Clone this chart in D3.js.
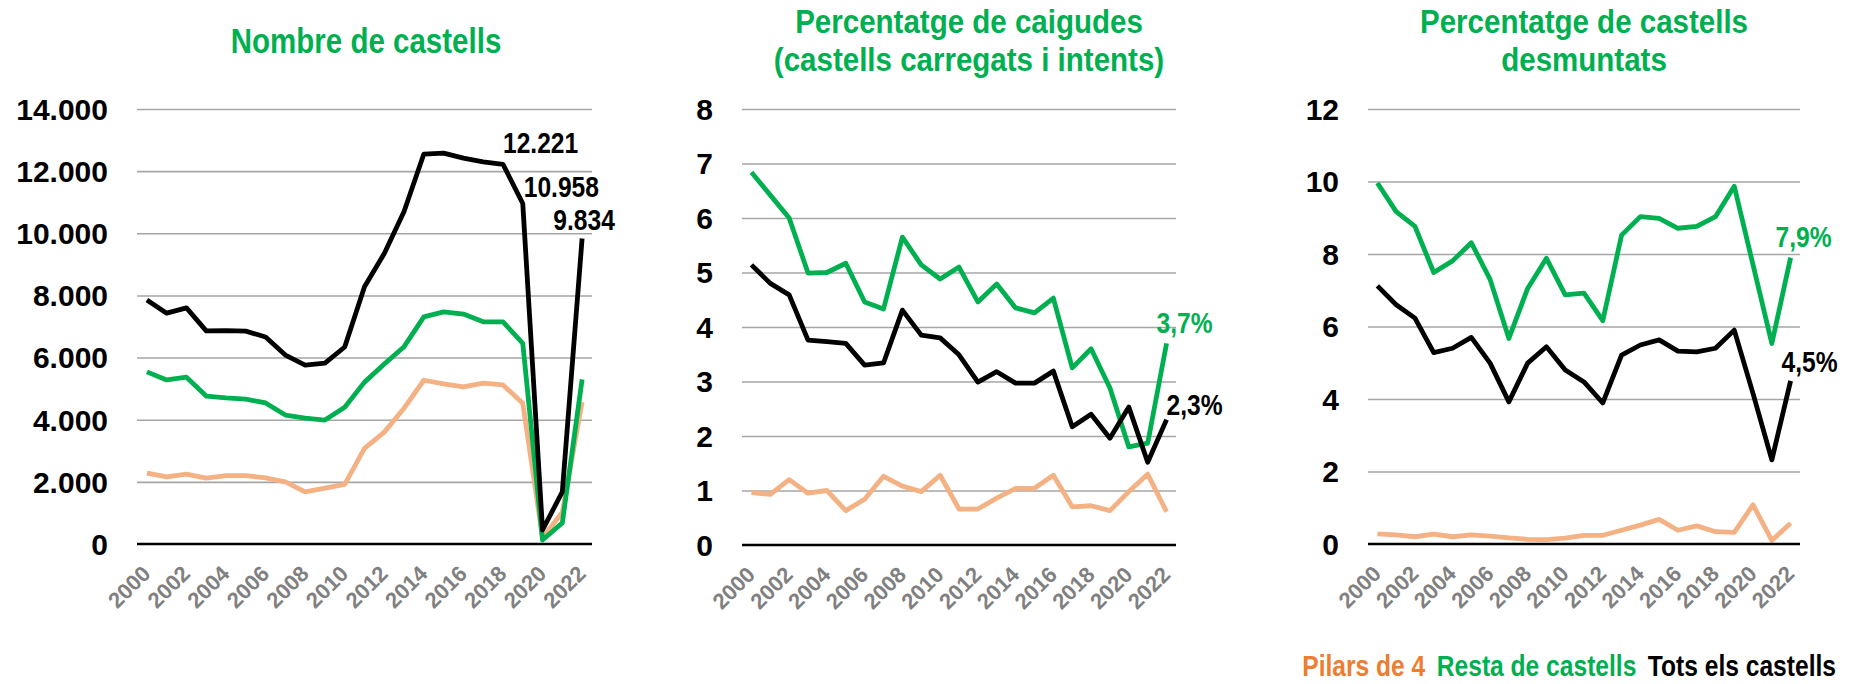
<!DOCTYPE html>
<html>
<head>
<meta charset="utf-8">
<script src="https://cdn.jsdelivr.net/npm/d3@7"></script>
<style>
  body { margin: 0; background: #fff; }
  svg text { font-family: "Liberation Sans", Arial, sans-serif; }
</style>
</head>
<body>
<svg id="chart" width="1866" height="684"></svg>
<script>
"use strict";

// years on the x axis
const years = d3.range(2000, 2023);

// Nombre de castells
const nombrePilars = [2280, 2160, 2250, 2120, 2200, 2200, 2130, 2000, 1680, 1800, 1920, 3080, 3600, 4370, 5270, 5150, 5060, 5180, 5120, 4530, 200, 1020, 4570];
const nombreResta  = [5540, 5280, 5370, 4760, 4700, 4660, 4540, 4150, 4050, 3990, 4400, 5210, 5790, 6350, 7310, 7470, 7400, 7150, 7150, 6460, 130, 680, 5300];
const nombreTots   = [7850, 7430, 7600, 6860, 6870, 6850, 6660, 6080, 5760, 5820, 6340, 8280, 9350, 10700, 12550, 12580, 12420, 12300, 12221, 10958, 450, 1680, 9834];

// Percentatge de caigudes
const caigudesPilars = [0.96, 0.93, 1.20, 0.95, 1.00, 0.63, 0.84, 1.26, 1.08, 0.98, 1.28, 0.66, 0.66, 0.86, 1.04, 1.04, 1.28, 0.70, 0.72, 0.63, 0.98, 1.30, 0.61];
const caigudesResta  = [6.84, 6.42, 6.00, 4.99, 5.00, 5.17, 4.46, 4.33, 5.65, 5.14, 4.88, 5.10, 4.46, 4.79, 4.35, 4.26, 4.53, 3.25, 3.60, 2.88, 1.80, 1.87, 3.70];
const caigudesTots   = [5.14, 4.80, 4.59, 3.76, 3.73, 3.70, 3.30, 3.34, 4.31, 3.85, 3.80, 3.49, 2.99, 3.18, 2.97, 2.97, 3.19, 2.17, 2.40, 1.96, 2.53, 1.52, 2.30];

// Percentatge de castells desmuntats
const desmuntatsPilars = [0.28, 0.25, 0.20, 0.27, 0.20, 0.25, 0.22, 0.17, 0.13, 0.12, 0.16, 0.24, 0.24, 0.38, 0.52, 0.68, 0.38, 0.50, 0.34, 0.32, 1.08, 0.10, 0.57];
const desmuntatsResta  = [9.96, 9.17, 8.76, 7.49, 7.81, 8.31, 7.30, 5.67, 7.05, 7.88, 6.87, 6.92, 6.16, 8.52, 9.03, 8.98, 8.71, 8.76, 9.03, 9.87, 7.70, 5.53, 7.90];
const desmuntatsTots   = [7.12, 6.60, 6.23, 5.28, 5.40, 5.70, 4.99, 3.92, 4.99, 5.44, 4.80, 4.47, 3.89, 5.21, 5.49, 5.63, 5.32, 5.30, 5.40, 5.90, 4.15, 2.32, 4.50];

const seriesNames = ["Pilars de 4", "Resta de castells", "Tots els castells"];
const lineColors  = ["#F4B183", "#00B050", "#000000"];
const legendColors = ["#ED7D31", "#00B050", "#000000"];

const titles = [
  ["Nombre de castells"],
  ["Percentatge de caigudes", "(castells carregats i intents)"],
  ["Percentatge de castells", "desmuntats"]
];
const yMax  = [14000, 8, 12];
const yStep = [2000, 1, 2];

// end-of-line value labels: [panel, series index, year, text]
const labels = [
  [0, 2, 2018, "12.221"],
  [0, 2, 2019, "10.958"],
  [0, 2, 2022, "9.834"],
  [1, 1, 2022, "3,7%"],
  [1, 2, 2022, "2,3%"],
  [2, 1, 2022, "7,9%"],
  [2, 2, 2022, "4,5%"]
];

const panelData = [
  [nombrePilars, nombreResta, nombreTots],
  [caigudesPilars, caigudesResta, caigudesTots],
  [desmuntatsPilars, desmuntatsResta, desmuntatsTots]
];

// layout of each panel (pixels)
const layout = [
  {left: 137,  right: 592,  top: 109, bottom: 544, titleX: 366,  titleY: [53],     titleSize: 36},
  {left: 742,  right: 1176, top: 109, bottom: 545, titleX: 969,  titleY: [33, 71], titleSize: 33},
  {left: 1368, right: 1800, top: 109, bottom: 544, titleX: 1584, titleY: [33, 71], titleSize: 33}
];
// label offsets (dx, dy, anchor) for the value labels
const labelOffsets = [[0, -11, "start"], [1, -7, "start"], [2, -8, "middle"], [-10, -10, "start"], [0, -5, "start"], [-15, -11, "start"], [-9, -9, "start"]];

const NARROW = 0.82;  // no narrow font installed: squeeze the glyphs horizontally

const svg = d3.select("#chart");
const fmtThousands = d3.formatLocale({decimal: ",", thousands: ".", grouping: [3], currency: ["", "€"]}).format(",");

function narrowText(parent, x, y, factor) {
  return parent.append("text")
    .attr("transform", "translate(" + x + "," + y + ") scale(" + factor + ",1)");
}

layout.forEach((L, p) => {
  const g = svg.append("g");

  let xScale = d3.scalePoint()
                 .domain(years)
                 .range([L.left, L.right])
                 .padding(0.5);

  let yScale = d3.scaleLinear()
                 .domain([0, yMax[p]])
                 .range([L.bottom, L.top]);

  const ticks = d3.range(0, yMax[p] + yStep[p] / 2, yStep[p]);

  // gridlines
  g.append("g")
    .attr("transform", "translate(" + L.left + ",0)")
    .call(d3.axisLeft(yScale).tickValues(ticks.slice(1)).tickSize(-(L.right - L.left)).tickFormat(""))
    .call(a => a.select(".domain").remove())
    .call(a => a.selectAll("line").attr("stroke", "#a6a6a6").attr("stroke-width", 1.6));

  // y labels
  g.selectAll(".ylab")
    .data(ticks)
    .enter().append("text")
      .attr("x", L.left - 29)
      .attr("y", d => yScale(d))
      .attr("dy", "0.36em")
      .attr("text-anchor", "end")
      .attr("font-size", 30)
      .attr("font-weight", "bold")
      .attr("fill", "#000")
      .text(d => p === 0 ? fmtThousands(d) : d);

  // x labels
  g.selectAll(".xlab")
    .data(years.filter(y => y % 2 === 0))
    .enter().append("text")
      .attr("transform", d => "translate(" + (xScale(d) + 5) + "," + (L.bottom + 31) + ") rotate(-45)")
      .attr("text-anchor", "end")
      .attr("font-size", 22)
      .attr("font-weight", "bold")
      .attr("fill", "#808080")
      .text(d => d);

  // lines
  const lineGenerator = d3.line()
      .x((d, i) => xScale(years[i]))
      .y(d => yScale(d));

  panelData[p].forEach((vals, s) => {
    g.append("path")
      .attr("d", lineGenerator(vals))
      .attr("fill", "none")
      .attr("stroke", lineColors[s])
      .attr("stroke-width", 4.8)
      .attr("stroke-linejoin", "round");
  });

  // zero axis line
  g.append("line")
    .attr("x1", L.left).attr("x2", L.right)
    .attr("y1", yScale(0)).attr("y2", yScale(0))
    .attr("stroke", "#000")
    .attr("stroke-width", 2.5);

  // title lines; width kept as for a 36px narrow face
  titles[p].forEach((t, k) => {
    narrowText(g, L.titleX, L.titleY[k], NARROW * 36 / L.titleSize)
      .attr("text-anchor", "middle")
      .attr("font-size", L.titleSize)
      .attr("font-weight", "bold")
      .attr("fill", "#00B050")
      .text(t);
  });

  // value labels
  labels.forEach((lab, i) => {
    if (lab[0] !== p) return;
    const idx = years.indexOf(lab[2]);
    const v = panelData[p][lab[1]][idx];
    narrowText(g, xScale(lab[2]) + labelOffsets[i][0], yScale(v) + labelOffsets[i][1], NARROW)
      .attr("text-anchor", labelOffsets[i][2])
      .attr("font-size", 30)
      .attr("font-weight", "bold")
      .attr("fill", lab[1] === 1 ? "#00B050" : "#000")
      .text(lab[3]);
  });
});

// legend, laid out right to left
let legendRight = 1836;
for (let i = seriesNames.length - 1; i >= 0; i--) {
  const t = narrowText(svg, legendRight, 676, NARROW)
    .attr("text-anchor", "end")
    .attr("font-size", 30)
    .attr("font-weight", "bold")
    .attr("fill", legendColors[i])
    .text(seriesNames[i]);
  legendRight -= (t.node().getComputedTextLength() + 14) * NARROW;
}
</script>
</body>
</html>
